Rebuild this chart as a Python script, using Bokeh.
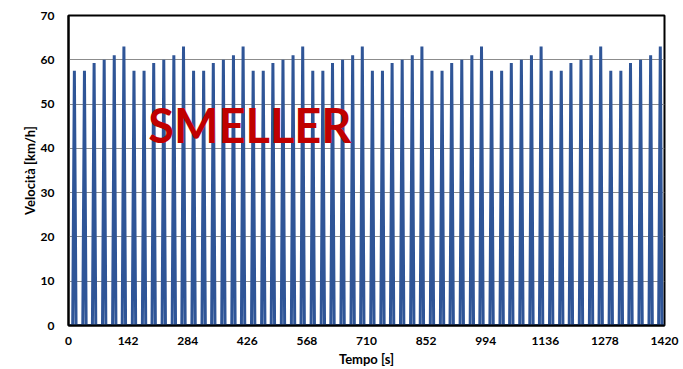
from bokeh.plotting import figure
from bokeh.models import Range1d, FixedTicker, Label
from bokeh.embed import file_html
from bokeh.resources import INLINE

# ---- data ----
cycle_length = 142                      # s, one repeated driving cycle
n_cycles = 10
peak_times = [14, 38, 61, 85, 109, 132] # s within each cycle
peak_speeds = [57.5, 57.5, 59.3, 60.0, 61.0, 63.0]  # km/h
rise_time = 4                           # s from standstill to peak
fall_time = 4                           # s from peak to standstill
x_ticks = [0, 142, 284, 426, 568, 710, 852, 994, 1136, 1278, 1420]
y_ticks = [0, 10, 20, 30, 40, 50, 60, 70]

# build the speed trace from the cycle table
t = [0.0]
v = [0.0]
for c in range(n_cycles):
    for pt, ps in zip(peak_times, peak_speeds):
        base = c * cycle_length + pt
        t += [base - rise_time, base, base + fall_time]
        v += [0.0, ps, 0.0]
t.append(1420.0)
v.append(0.0)

FONT = "Lato"

p = figure(width=683, height=369, output_backend="svg", toolbar_location=None,
           x_range=Range1d(0, 1420), y_range=Range1d(0, 70))
p.min_border_left = 68
p.min_border_right = 19
p.min_border_top = 15
p.min_border_bottom = 44
p.background_fill_color = "white"
p.border_fill_color = "white"
p.outline_line_color = "black"
p.outline_line_width = 2

p.line(t, v, line_color="#2F5597", line_width=3)

p.xaxis.ticker = FixedTicker(ticks=x_ticks)
p.yaxis.ticker = FixedTicker(ticks=y_ticks)
for ax in (p.xaxis[0], p.yaxis[0]):
    ax.major_tick_line_color = None
    ax.minor_tick_line_color = None
    ax.axis_line_color = "black"
    ax.axis_line_width = 2
    ax.major_label_text_font = FONT
    ax.major_label_text_font_style = "bold"
    ax.major_label_text_font_size = "12px"
    ax.major_label_text_color = "black"
    ax.axis_label_text_font = FONT
    ax.axis_label_text_font_style = "bold"
    ax.axis_label_text_font_size = "13px"
    ax.axis_label_text_color = "black"

p.xaxis.axis_label = "Tempo [s]"
p.yaxis.axis_label = "Velocità [km/h]"
p.xaxis.major_label_standoff = 5
p.xaxis.axis_label_standoff = 3
p.yaxis.major_label_standoff = 8
p.yaxis.axis_label_standoff = 0

p.xgrid.grid_line_color = None
p.ygrid.grid_line_color = "#8C8C8C"
p.ygrid.grid_line_width = 1

p.add_layout(Label(x=190, y=45.3, text="SMELLER", text_color="#C00000",
                   text_font=FONT, text_font_style="bold", text_font_size="47px",
                   text_baseline="alphabetic"))

open("out.html", "w").write(file_html(p, INLINE))
